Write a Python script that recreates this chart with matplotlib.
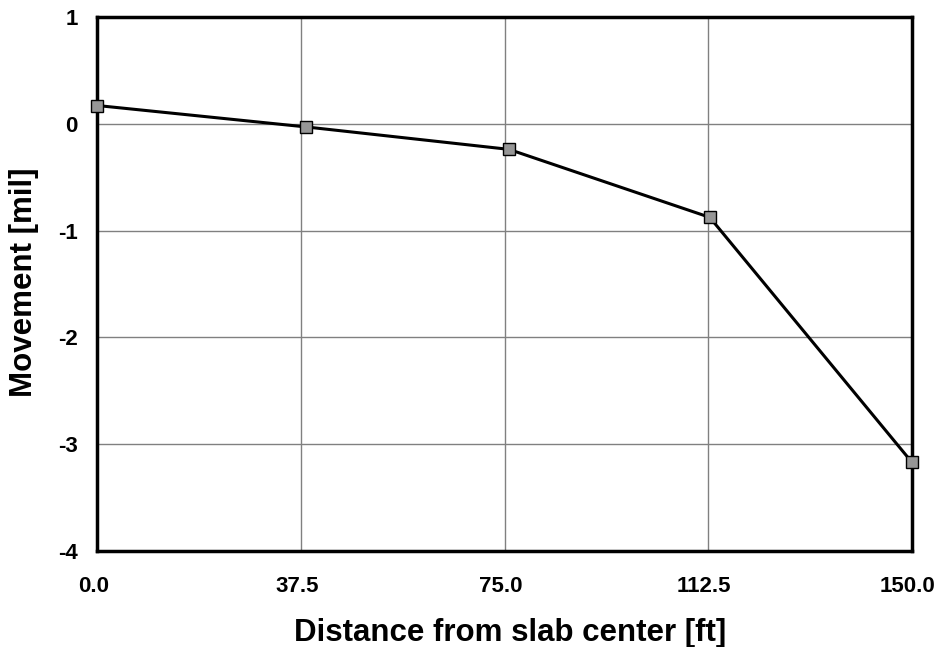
import matplotlib
matplotlib.use("Agg")
import matplotlib.pyplot as plt
import matplotlib.transforms as mtransforms

distance_ft = [0.0, 38.4, 75.8, 112.8, 150.0]
movement_mil = [0.17, -0.03, -0.24, -0.876, -3.165]
x_ticks = [0.0, 37.5, 75.0, 112.5, 150.0]
x_tick_labels = ["0.0", "37.5", "75.0", "112.5", "150.0"]
y_ticks = [-4, -3, -2, -1, 0, 1]
y_tick_labels = ["-4", "-3", "-2", "-1", "0", "1"]

plt.rcParams['font.family'] = ['Liberation Sans', 'DejaVu Sans']

fig = plt.figure(figsize=(9.41, 6.47), dpi=100)
ax = fig.add_axes([97.4/941, 1-551.3/647, (911.7-97.4)/941, (551.3-16.8)/647])

ax.plot(distance_ft, movement_mil, color='black', lw=2.2, marker='s', markersize=8,
        markerfacecolor='#969696', markeredgecolor='black', markeredgewidth=1, zorder=5, clip_on=False)

ax.set_xlim(0, 150)
ax.set_ylim(-4, 1)
ax.set_xticks(x_ticks)
ax.set_xticklabels(x_tick_labels)
ax.set_yticks(y_ticks)
ax.set_yticklabels(y_tick_labels)
ax.grid(True, color='#808080', lw=1)
ax.set_axisbelow(True)
for s in ax.spines.values():
    s.set_linewidth(2.5)
    s.set_color('black')
ax.tick_params(axis='both', length=0, labelsize=16)
ax.tick_params(axis='x', pad=18)
ax.tick_params(axis='y', pad=14)
shift = mtransforms.ScaledTranslation(-4/100, 0, fig.dpi_scale_trans)
for lbl in ax.get_xticklabels():
    lbl.set_fontweight('bold')
    lbl.set_transform(lbl.get_transform() + shift)
for lbl in ax.get_yticklabels():
    lbl.set_fontweight('bold')

ax.set_xlabel("Distance from slab center [ft]", fontsize=22.5, fontweight='bold')
ax.set_ylabel("Movement [mil]", fontsize=22.5, fontweight='bold')
ax.xaxis.set_label_coords((510 - 97.4) / (911.7 - 97.4), -(633 - 551.3) / (551.3 - 16.8))
ax.yaxis.set_label_coords(-(97.4 - 24.5) / (911.7 - 97.4), (551.3 - 282) / (551.3 - 16.8))
ax.xaxis.label.set_verticalalignment('center')
ax.yaxis.label.set_verticalalignment('center')

fig.savefig("out.png", dpi=100)
